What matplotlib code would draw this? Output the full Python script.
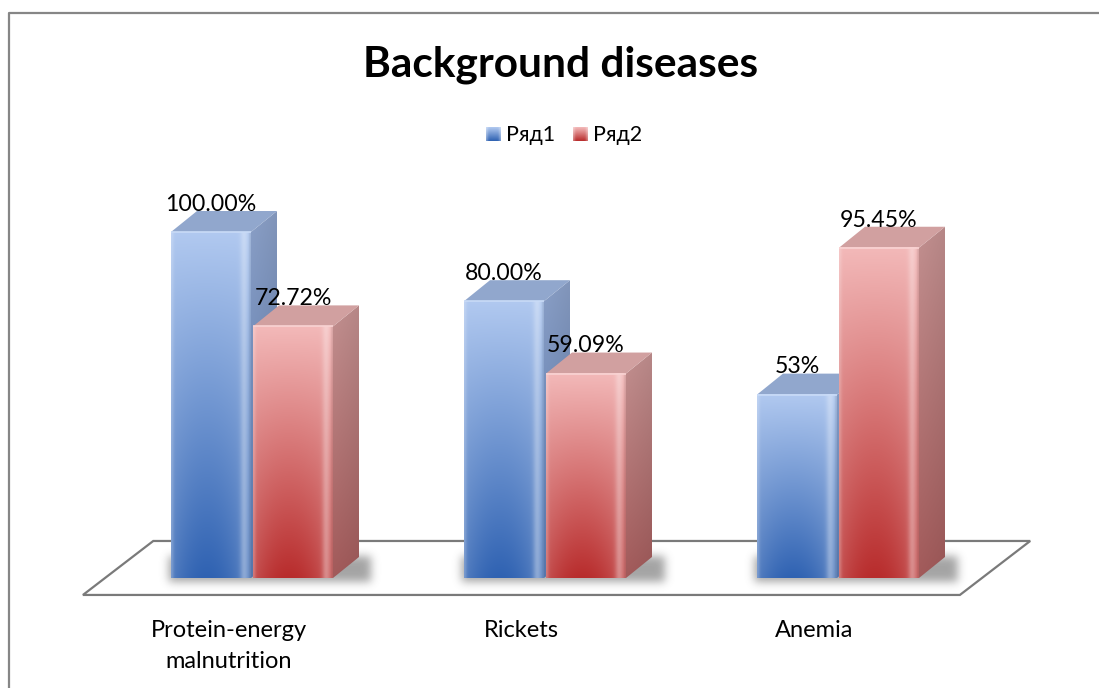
import numpy as np
import matplotlib
matplotlib.use("Agg")
import matplotlib.pyplot as plt
from matplotlib.patches import Polygon
from matplotlib.lines import Line2D

# ---- data ----
categories = ["Protein-energy\nmalnutrition", "Rickets", "Anemia"]
series_names = ["Ряд1", "Ряд2"]
row1_values = [100.00, 80.00, 53.0]
row2_values = [72.72, 59.09, 95.45]
row1_labels = ["100.00%", "80.00%", "53%"]
row2_labels = ["72.72%", "59.09%", "95.45%"]

FONT = ["Lato", "Open Sans", "DejaVu Sans"]
plt.rcParams["font.family"] = FONT

W, H = 1099, 688
fig = plt.figure(figsize=(W / 100, H / 100), dpi=100)
fig.patch.set_facecolor("white")

# full-figure axes; x in category units, y in percent
PX_PER_CAT = 293.0
PX_PER_PCT = 3.46
ORIGIN_X = 252.0
BASE_Y = 578.0
ax = fig.add_axes([0, 0, 1, 1])
ax.set_xlim(-ORIGIN_X / PX_PER_CAT, (W - ORIGIN_X) / PX_PER_CAT)
ax.set_ylim((BASE_Y - H) / PX_PER_PCT, BASE_Y / PX_PER_PCT)
ax.axis("off")

BAR_W = 80 / PX_PER_CAT
GAP = 2 / PX_PER_CAT
DX = 26 / PX_PER_CAT       # depth offset (x)
DY = 21 / PX_PER_PCT       # depth offset (y)


def hexrgb(h):
    h = h.lstrip("#")
    return np.array([int(h[i:i + 2], 16) / 255 for i in (0, 2, 4)])


def blur(a, s):
    r = int(3 * s)
    k = np.exp(-0.5 * (np.arange(-r, r + 1) / s) ** 2)
    k /= k.sum()
    a = np.apply_along_axis(lambda m: np.convolve(m, k, mode="same"), 0, a)
    a = np.apply_along_axis(lambda m: np.convolve(m, k, mode="same"), 1, a)
    return a


def front_image(top, bot, n=256, m=80):
    t = np.linspace(0, 1, n)[:, None, None]
    u = np.linspace(0, 1, m)[None, :, None]
    col = top * (1 - t) + bot * t
    # lighter towards the sides at the bottom
    edge = np.clip(np.abs(u - 0.45) / 0.55, 0, 1) ** 2
    col = col + (1 - col) * edge * 0.28 * t
    # soft vertical highlight near the right edge
    hl = np.exp(-((u - 0.92) / 0.05) ** 2)
    col = col + (1 - col) * hl * 0.3
    # thin light left edge
    col = col + (1 - col) * np.exp(-(u / 0.03) ** 2) * 0.2
    # thin darker right rim
    col = col * (1 - 0.1 * np.exp(-((u - 1.0) / 0.02) ** 2))
    return np.clip(col, 0, 1)


def side_image(top, bot, n=256, m=20):
    t = np.linspace(0, 1, n)[:, None, None]
    u = np.linspace(0, 1, m)[None, :, None]
    col = top * (1 - t) + bot * t
    col = col * (1 - 0.06 * u)
    return np.clip(col, 0, 1)


def draw_bar(left, value, style, z):
    right = left + BAR_W
    # side face
    side = Polygon([(right, 0), (right + DX, DY), (right + DX, value + DY), (right, value)],
                   closed=True, facecolor="none", edgecolor="none")
    ax.add_patch(side)
    im = ax.imshow(side_image(style["side_top"], style["side_bot"]),
                   extent=(right, right + DX, 0, value + DY), origin="upper",
                   aspect="auto", zorder=z, interpolation="bilinear")
    im.set_clip_path(side)
    # top face
    top = Polygon([(left, value), (right, value), (right + DX, value + DY), (left + DX, value + DY)],
                  closed=True, facecolor=style["top"], edgecolor="none", zorder=z + 0.1)
    ax.add_patch(top)
    # front face
    ax.imshow(front_image(style["front_top"], style["front_bot"]),
              extent=(left, right, 0, value), origin="upper", aspect="auto",
              zorder=z + 0.2, interpolation="bilinear")
    ax.plot([left, right], [value, value], color=style["rim"], lw=1.2,
            zorder=z + 0.3, solid_capstyle="butt")


blue = dict(front_top=hexrgb("#b1c9f0"), front_bot=hexrgb("#2f62b2"),
            side_top=hexrgb("#8a9fc6"), side_bot=hexrgb("#5676ab"),
            top=hexrgb("#91a7cd"), rim=hexrgb("#c9dbf7"))
red = dict(front_top=hexrgb("#f3b9b9"), front_bot=hexrgb("#b82c2c"),
           side_top=hexrgb("#c29090"), side_bot=hexrgb("#a25a5a"),
           top=hexrgb("#d1a0a0"), rim=hexrgb("#f9d3d3"))

idx = np.arange(len(categories))
blue_left = idx - GAP / 2 - BAR_W
red_left = idx + GAP / 2

# floor
FLOOR_FRONT_Y, FLOOR_BACK_Y = -4.9, 10.7
FLOOR_X0, FLOOR_X1, FLOOR_SHIFT = -0.577, 2.416, 0.24
floor = Polygon([(FLOOR_X0, FLOOR_FRONT_Y), (FLOOR_X1, FLOOR_FRONT_Y),
                 (FLOOR_X1 + FLOOR_SHIFT, FLOOR_BACK_Y), (FLOOR_X0 + FLOOR_SHIFT, FLOOR_BACK_Y)],
                closed=True, facecolor="white", edgecolor="#7a7a7a", lw=1.6, zorder=1)
ax.add_patch(floor)

# soft shadow at the foot of each cluster
sx0, sx1, sy0, sy1 = -0.8, 2.9, -14, 20
gx = np.linspace(sx0, sx1, 1100)
gy = np.linspace(sy1, sy0, 120)
GX, GY = np.meshgrid(gx, gy)
mask = np.zeros_like(GX)
for i in idx:
    x0 = blue_left[i] - 0.01
    x1 = red_left[i] + BAR_W + DX + 0.04
    mask[(GX >= x0) & (GX <= x1) & (GY >= -1.2) & (GY <= DY)] = 1
sh = blur(mask, 4.5)
rgba = np.zeros(sh.shape + (4,))
rgba[..., :3] = 0.35
rgba[..., 3] = np.clip(sh * 0.55, 0, 1)
ax.imshow(rgba, extent=(sx0, sx1, sy0, sy1), origin="upper", aspect="auto",
          zorder=2, interpolation="bilinear")

for i in idx:
    draw_bar(blue_left[i], row1_values[i], blue, 3)
    draw_bar(red_left[i], row2_values[i], red, 4)

ax.set_xlim(-ORIGIN_X / PX_PER_CAT, (W - ORIGIN_X) / PX_PER_CAT)
ax.set_ylim((BASE_Y - H) / PX_PER_PCT, BASE_Y / PX_PER_PCT)

# value labels
LABEL_OFF = 8.0
for i in idx:
    ax.text(blue_left[i] + BAR_W / 2, row1_values[i] + LABEL_OFF, row1_labels[i],
            ha="center", va="center", fontsize=16.7, color="black", zorder=10)
    ax.text(red_left[i] + BAR_W / 2, row2_values[i] + LABEL_OFF, row2_labels[i],
            ha="center", va="center", fontsize=16.7, color="black", zorder=10)

# category labels
for i in idx:
    ax.text(i - 0.08, -12.0, categories[i], ha="center", va="top",
            fontsize=17, color="black", linespacing=1.6, zorder=10)

# title
fig.text(561 / W, 1 - 76 / H, "Background diseases", ha="center", va="baseline",
         fontsize=30.5, fontweight="bold", color="black")

# legend
def legend_marker(px, py, style):
    a = fig.add_axes([px / W, 1 - (py + 14) / H, 15 / W, 14 / H])
    t = np.linspace(0, 1, 28)[:, None, None]
    u = np.linspace(0, 1, 30)[None, :, None]
    col = style["front_top"] * (1 - t) + style["front_bot"] * t
    pinch = np.abs(u - 0.5) * 2
    col = col + (1 - col) * (0.35 * np.exp(-((pinch - 1) / 0.25) ** 2))
    a.imshow(np.clip(col, 0, 1), aspect="auto", interpolation="bilinear")
    a.axis("off")

legend_marker(486, 127, blue)
fig.text(506 / W, 1 - 141 / H, series_names[0], ha="left", va="baseline", fontsize=15.5)
legend_marker(573, 127, red)
fig.text(593 / W, 1 - 141 / H, series_names[1], ha="left", va="baseline", fontsize=15.5)

# chart frame
fy = 1 - 12.5 / H
fx = 8.5 / W
fig.add_artist(Line2D([fx, fx, 1.0], [0.0, fy, fy], transform=fig.transFigure,
                      color="#868686", lw=1.6))

fig.savefig("out.png", dpi=100, facecolor="white")
